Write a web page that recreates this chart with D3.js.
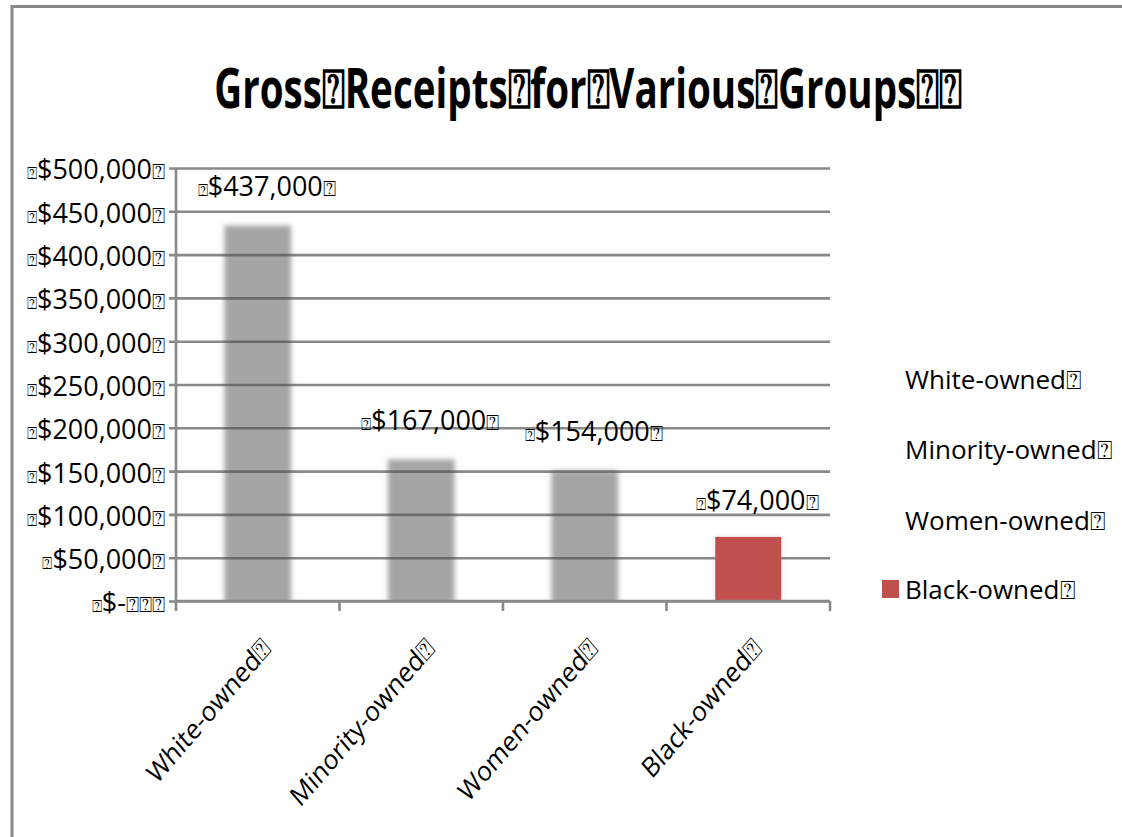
<!DOCTYPE html>
<html>
<head>
<meta charset="utf-8">
<script src="https://cdn.jsdelivr.net/npm/d3@7"></script>
<style>
  html, body { margin: 0; padding: 0; background: #ffffff; }
  svg { display: block; }
  text { font-family: "Open Sans", "DejaVu Sans", sans-serif; fill: #000; }
</style>
</head>
<body>
<svg id="chart" width="1122" height="837"></svg>
<script>
// Gross receipts by ownership group
const categories = ["White-owned", "Minority-owned", "Women-owned", "Black-owned"];
const receipts = [437000, 167000, 154000, 74000];
const barKinds = ["soft", "soft", "soft", "solid"];
const yTicks = [0, 50000, 100000, 150000, 200000, 250000, 300000, 350000, 400000, 450000, 500000];
const titleText = "Gross\u2370Receipts\u2370for\u2370Various\u2370Groups\u2370\u2370";
const BOX = "\u2370";

const W = 1122, H = 837;
const plot = { left: 176, right: 830, top: 168, bottom: 601 };

const svg = d3.select("#chart");

const defs = svg.append("defs");
const soft = defs.append("filter").attr("id", "softEdge")
  .attr("x", "-30%").attr("y", "-10%").attr("width", "160%").attr("height", "120%");
soft.append("feGaussianBlur").attr("stdDeviation", 2.4);

const glow = defs.append("filter").attr("id", "glow")
  .attr("x", "-20%").attr("y", "-10%").attr("width", "140%").attr("height", "120%");
glow.append("feGaussianBlur").attr("in", "SourceAlpha").attr("stdDeviation", 2.5).attr("result", "b");
glow.append("feFlood").attr("flood-color", "#000").attr("flood-opacity", 0.12);
glow.append("feComposite").attr("in2", "b").attr("operator", "in").attr("result", "s");
const gm = glow.append("feMerge");
gm.append("feMergeNode").attr("in", "s");
gm.append("feMergeNode").attr("in", "SourceGraphic");

const clip = defs.append("clipPath").attr("id", "plotClip");
clip.append("rect").attr("x", plot.left - 20).attr("y", 0)
  .attr("width", plot.right - plot.left + 40).attr("height", plot.bottom);

// outer frame
svg.append("path")
  .attr("d", `M12,${H} L12,6.5 L${W},6.5`)
  .attr("fill", "none").attr("stroke", "#888").attr("stroke-width", 3);

// title, squeezed horizontally to its condensed width
const titleG = svg.append("g");
const title = titleG.append("text")
  .attr("x", 0).attr("y", 0)
  .attr("text-anchor", "middle")
  .attr("font-weight", 700)
  .attr("font-size", 55)
  .text(titleText);
const natural = title.node().getComputedTextLength();
titleG.attr("transform", `translate(588,108) scale(${750 / natural},1)`);

const x = d3.scaleBand().domain(categories).range([plot.left, plot.right]).padding(0);
const y = d3.scaleLinear().domain([0, 500000]).range([plot.bottom, plot.top]);

const fmt = d3.format(",");
const moneyLabel = v => v === 0 ? "$-" : "$" + fmt(v);

// gridlines with left tick marks
const yAxis = d3.axisLeft(y).tickValues(yTicks)
  .tickSize(-(plot.right - plot.left)).tickFormat("");
const gy = svg.append("g").attr("transform", `translate(${plot.left},0)`).call(yAxis);
gy.select(".domain").remove();
gy.selectAll(".tick line")
  .attr("x1", -7)
  .attr("stroke", "#898989").attr("stroke-width", 2.6);

// y axis line
svg.append("line")
  .attr("x1", plot.left).attr("x2", plot.left)
  .attr("y1", plot.top).attr("y2", plot.bottom)
  .attr("stroke", "#898989").attr("stroke-width", 2.6);

// y tick labels
const yl = svg.append("g").selectAll("text").data(yTicks).join("text")
  .attr("x", 165).attr("y", d => y(d) + 2)
  .attr("dy", "0.35em")
  .attr("text-anchor", "end")
  .attr("font-size", 27);
yl.append("tspan").text(BOX).attr("font-size", 17);
yl.append("tspan").text(d => moneyLabel(d));
yl.append("tspan").attr("font-size", 22).text(d => d === 0 ? BOX + BOX + BOX : BOX);

// bars
const barW = x.bandwidth() * 0.42;
const bars = svg.append("g").attr("clip-path", "url(#plotClip)");
categories.forEach((c, i) => {
  const cx = x(c) + x.bandwidth() / 2;
  if (barKinds[i] === "soft") {
    bars.append("rect")
      .attr("x", cx - barW / 2 + 1).attr("y", y(receipts[i]) + 3)
      .attr("width", barW - 2).attr("height", y(0) - y(receipts[i]) + 6)
      .attr("fill", "#4b4b4b").attr("fill-opacity", 0.5)
      .attr("filter", "url(#softEdge)");
  } else {
    bars.append("rect")
      .attr("x", cx - 33).attr("y", y(receipts[i]))
      .attr("width", 66).attr("height", y(0) - y(receipts[i]))
      .attr("fill", "#c0504d")
      .attr("filter", "url(#glow)");
  }
});

// x axis with ticks at band boundaries
const bounds = categories.map(c => x(c)).concat([plot.right]);
svg.append("line")
  .attr("x1", plot.left).attr("x2", plot.right)
  .attr("y1", plot.bottom).attr("y2", plot.bottom)
  .attr("stroke", "#898989").attr("stroke-width", 2.6);
svg.append("g").selectAll("line").data(bounds).join("line")
  .attr("x1", d => d).attr("x2", d => d)
  .attr("y1", plot.bottom).attr("y2", plot.bottom + 10)
  .attr("stroke", "#898989").attr("stroke-width", 2.6);

// value labels
const vl = svg.append("g").selectAll("text").data(categories).join("text")
  .attr("x", (c) => x(c) + x.bandwidth() / 2 + 9)
  .attr("y", (c, i) => y(receipts[i]) - 36)
  .attr("dy", "0.35em")
  .attr("text-anchor", "middle")
  .attr("font-size", 27);
vl.append("tspan").text(BOX).attr("font-size", 17);
vl.append("tspan").text((c, i) => moneyLabel(receipts[i]));
vl.append("tspan").attr("font-size", 22).text(BOX);

// category labels, rotated and slightly narrowed
svg.append("g").selectAll("text").data(categories).join("text")
  .attr("transform", c => `translate(${x(c) + x.bandwidth() / 2 + 15},${650}) scale(0.86,1) rotate(-45)`)
  .attr("text-anchor", "end")
  .attr("font-size", 28)
  .text(c => c + BOX);

// legend
const lg = svg.append("g");
const legendY = [380, 450, 521, 590];
categories.forEach((c, i) => {
  if (barKinds[i] === "solid") {
    lg.append("rect").attr("x", 882).attr("y", legendY[i] - 10)
      .attr("width", 17).attr("height", 18).attr("fill", "#c0504d");
  }
  lg.append("text")
    .attr("x", 905).attr("y", legendY[i]).attr("dy", "0.35em")
    .attr("font-size", 26)
    .text(c + BOX);
});
</script>
</body>
</html>
